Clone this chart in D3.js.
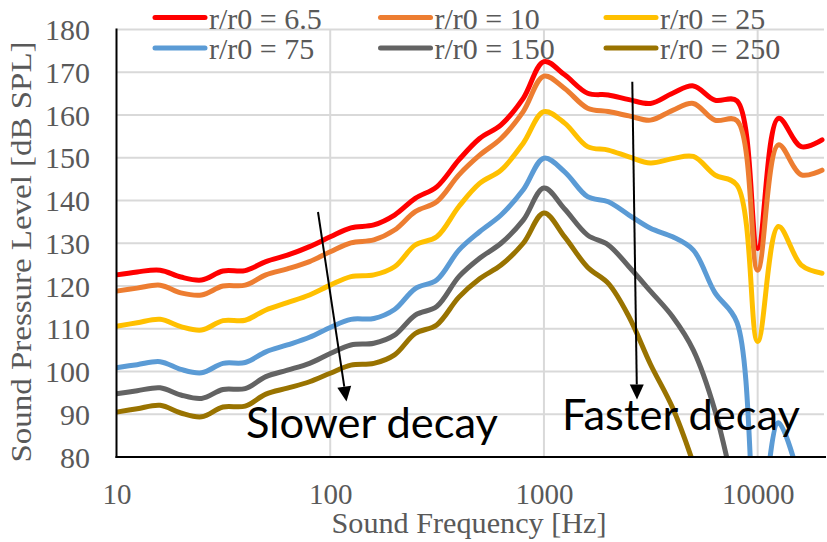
<!DOCTYPE html>
<html>
<head>
<meta charset="utf-8">
<script src="https://cdn.jsdelivr.net/npm/d3@7"></script>
<style>
  html, body { margin: 0; padding: 0; background: #fff; }
  svg { display: block; }
</style>
</head>
<body>
<script>
// One-third-octave band centre frequencies (Hz)
const freq = [10, 12.5, 16, 20, 25, 31.5, 40, 50, 63, 80, 100, 125, 160, 200, 250, 315, 400, 500,
  630, 800, 1000, 1250, 1600, 2000, 2500, 3150, 4000, 5000, 6300, 8000, 10000, 12500, 16000, 20000];

// Sound pressure level (dB SPL) at each distance ratio
const spl_6_5 = [122.6, 123.3, 123.7, 122.1, 121.4, 123.5, 123.6, 125.7, 127.2, 129.2, 131.5, 133.6, 134.3,
  136.6, 140.5, 143.2, 149.5, 154.5, 157.7, 163.9, 172.5, 169.4, 165.1, 164.7, 163.6, 162.7, 165.1, 166.8,
  163.5, 163.3, 128.8, 159.2, 152.6, 154.2];
const spl_10 = [118.8, 119.5, 120.2, 118.4, 117.9, 120.0, 120.2, 122.6, 124.0, 125.7, 128.0, 130.1, 130.8,
  133.1, 137.4, 139.7, 146.0, 150.6, 154.5, 160.8, 169.1, 166.2, 161.6, 160.8, 159.8, 158.8, 161.1, 162.7,
  158.8, 158.7, 123.7, 153.0, 146.0, 147.1];
const spl_25 = [110.6, 111.4, 112.2, 110.5, 109.7, 111.9, 112.0, 114.4, 116.1, 117.9, 120.2, 122.2, 122.6,
  124.5, 129.6, 131.5, 138.6, 144.0, 147.1, 153.4, 160.8, 158.1, 152.6, 151.8, 150.2, 148.8, 149.8, 150.3,
  146.0, 143.6, 107.0, 133.9, 124.9, 123.0];
const spl_75 = [100.9, 101.6, 102.3, 100.5, 99.7, 101.9, 102.1, 104.6, 106.2, 108.0, 110.3, 112.2, 112.4,
  114.5, 119.4, 121.4, 128.4, 132.7, 136.6, 142.5, 149.9, 146.7, 140.9, 139.7, 136.6, 133.5, 131.5, 128.4,
  118.5, 111.5, 60.0, 88.0, 73.0];
const spl_150 = [94.8, 95.5, 96.2, 94.5, 93.7, 95.8, 96.0, 98.8, 100.3, 101.9, 104.2, 106.2, 106.6,
  108.5, 113.2, 115.2, 122.2, 126.5, 130.0, 135.4, 142.9, 138.0, 131.9, 129.6, 124.5, 118.8, 112.8, 105.0,
  91.0, 69.0];
const spl_250 = [90.5, 91.3, 92.1, 90.3, 89.4, 91.7, 91.9, 94.7, 96.1, 97.6, 99.6, 101.5, 101.9,
  103.9, 108.9, 110.9, 117.4, 121.7, 124.9, 130.0, 137.1, 131.5, 124.4, 120.6, 112.8, 101.7, 91.5, 78.5,
  62.0];

const seriesNames = ["r/r0 = 6.5", "r/r0 = 10", "r/r0 = 25", "r/r0 = 75", "r/r0 = 150", "r/r0 = 250"];
const seriesValues = [spl_6_5, spl_10, spl_25, spl_75, spl_150, spl_250];
const seriesColors = ["#ff0000", "#ed7d31", "#ffc000", "#5b9bd5", "#636363", "#997300"];

const xTicks = [10, 100, 1000, 10000];
const yTicks = [80, 90, 100, 110, 120, 130, 140, 150, 160, 170, 180];

const W = 827, H = 542;
const plotL = 116.5, plotR = 822, plotT = 29.5, plotB = 457;
const serif = "'Liberation Serif', 'Times New Roman', serif";
const textGray = "#595959";

const svg = d3.select("body").append("svg").attr("width", W).attr("height", H);

const x = d3.scaleLog().domain([10, 20000]).range([plotL, plotR]);
const y = d3.scaleLinear().domain([80, 180]).range([plotB, plotT]);

// gridlines
svg.append("g").selectAll("line").data(yTicks).join("line")
  .attr("x1", plotL).attr("x2", plotR + 2)
  .attr("y1", d => y(d)).attr("y2", d => y(d))
  .attr("stroke", "#d9d9d9").attr("stroke-width", 2);
svg.append("g").selectAll("line").data(xTicks.slice(1)).join("line")
  .attr("x1", d => x(d)).attr("x2", d => x(d))
  .attr("y1", plotT).attr("y2", plotB)
  .attr("stroke", "#d9d9d9").attr("stroke-width", 2);

// axes
const xAxis = svg.append("g").attr("transform", `translate(0,${plotB})`)
  .call(d3.axisBottom(x).tickValues(xTicks).tickSize(0).tickPadding(0).tickFormat(d3.format("d")));
xAxis.select(".domain").remove();
xAxis.selectAll("text").attr("y", 47).attr("dy", 0)
  .attr("font-family", serif).attr("font-size", 29).attr("fill", textGray);

const yAxis = svg.append("g").attr("transform", `translate(${plotL},0)`)
  .call(d3.axisLeft(y).tickValues(yTicks).tickSize(0).tickPadding(0).tickFormat(d3.format("d")));
yAxis.select(".domain").remove();
yAxis.selectAll("text").attr("x", -26.5).attr("dy", "0.34em")
  .attr("font-family", serif).attr("font-size", 30).attr("fill", textGray);

// series
svg.append("defs").append("clipPath").attr("id", "plot-clip")
  .append("rect").attr("x", plotL).attr("y", 0).attr("width", plotR - plotL + 6).attr("height", plotB);

const line = d3.line()
  .x((d, i) => x(freq[i]))
  .y(d => y(d))
  .curve(d3.curveCatmullRom.alpha(0.5));

svg.append("g").attr("clip-path", "url(#plot-clip)")
  .selectAll("path").data(seriesValues).join("path")
  .attr("d", d => line(d))
  .attr("fill", "none")
  .attr("stroke", (d, i) => seriesColors[i])
  .attr("stroke-width", 5)
  .attr("stroke-linejoin", "round")
  .attr("stroke-linecap", "round");

// axis lines
svg.append("line").attr("x1", plotL).attr("x2", plotL).attr("y1", plotT - 1).attr("y2", plotB + 1)
  .attr("stroke", "#000").attr("stroke-width", 2);
svg.append("line").attr("x1", plotL - 1).attr("x2", plotR + 4).attr("y1", plotB).attr("y2", plotB)
  .attr("stroke", "#000").attr("stroke-width", 2);

// legend
const legend = svg.append("g");
seriesNames.forEach((name, i) => {
  const col = i % 3, row = Math.floor(i / 3);
  const lx = 155 + col * 225.5, ly = 17.5 + row * 30.5;
  legend.append("line").attr("x1", lx).attr("x2", lx + 50).attr("y1", ly).attr("y2", ly)
    .attr("stroke", seriesColors[i]).attr("stroke-width", 5).attr("stroke-linecap", "round");
  legend.append("text").attr("x", lx + 54).attr("y", ly + 11)
    .attr("font-family", serif).attr("font-size", 30).attr("fill", textGray)
    .text(name);
});

// axis titles
svg.append("text").attr("x", 469).attr("y", 533).attr("text-anchor", "middle")
  .attr("font-family", serif).attr("font-size", 29).attr("fill", textGray)
  .attr("textLength", 275).attr("lengthAdjust", "spacingAndGlyphs")
  .text("Sound Frequency [Hz]");
svg.append("text").attr("transform", "translate(31,252) rotate(-90)").attr("text-anchor", "middle")
  .attr("font-family", serif).attr("font-size", 30).attr("fill", textGray)
  .attr("textLength", 421).attr("lengthAdjust", "spacingAndGlyphs")
  .text("Sound Pressure Level  [dB SPL]");

// trend arrows
function arrow(x1, y1, x2, y2) {
  const ang = Math.atan2(y2 - y1, x2 - x1);
  const len = 15, half = 7;
  const bx = x2 - len * Math.cos(ang), by = y2 - len * Math.sin(ang);
  svg.append("line").attr("x1", x1).attr("y1", y1).attr("x2", bx).attr("y2", by)
    .attr("stroke", "#000").attr("stroke-width", 2);
  const px = -Math.sin(ang) * half, py = Math.cos(ang) * half;
  svg.append("path")
    .attr("d", `M${x2},${y2}L${bx + px},${by + py}L${bx - px},${by - py}Z`)
    .attr("fill", "#000");
}
arrow(318, 212, 346.5, 401.5);
arrow(632.3, 81.7, 637, 399.5);

// annotations
const sans = "Lato, 'Open Sans', sans-serif";
svg.append("text").attr("x", 246).attr("y", 438)
  .attr("font-family", sans).attr("font-size", 42).attr("fill", "#000")
  .attr("textLength", 252).attr("lengthAdjust", "spacingAndGlyphs")
  .text("Slower decay");
svg.append("text").attr("x", 562).attr("y", 430)
  .attr("font-family", sans).attr("font-size", 42).attr("fill", "#000")
  .attr("textLength", 238).attr("lengthAdjust", "spacingAndGlyphs")
  .text("Faster decay");
</script>
</body>
</html>
